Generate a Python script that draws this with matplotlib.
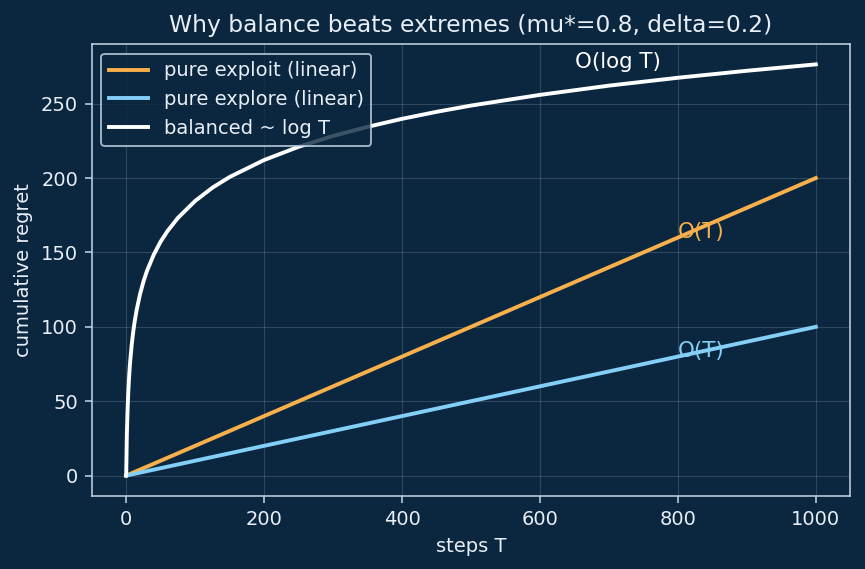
import matplotlib
matplotlib.use("Agg")
import matplotlib.pyplot as plt

# steps and regret values
steps_lin = [0, 1000]
exploit_regret = [0, 200]
explore_regret = [0, 100]

steps_bal = [0, 1, 2, 3, 4, 5, 6, 8, 10, 12, 15, 20, 25, 30, 40, 50, 60, 75,
             100, 125, 150, 200, 250, 300, 350, 400, 450, 500, 600, 700, 800,
             900, 1000]
balanced_regret = [0, 27.7, 43.9, 55.5, 64.4, 71.7, 77.8, 87.9, 95.9, 102.6,
                   110.9, 121.8, 130.3, 137.4, 148.5, 157.3, 164.4, 173.2,
                   184.6, 193.5, 200.7, 212.1, 221.0, 228.3, 234.4, 239.8,
                   244.5, 248.7, 255.9, 262.1, 267.4, 272.1, 276.4]

BG = "#0b2740"
ORANGE = "#f7b04c"
BLUE = "#84cff7"
FG = "#e8eef5"
SPINE = "#c5d5e5"

fig = plt.figure(figsize=(865 / 140, 569 / 140), dpi=140, facecolor=BG)
ax = fig.add_axes([0.106, 0.128, 0.877, 0.795], facecolor=BG)

ax.plot(steps_lin, exploit_regret, color=ORANGE, lw=2, label="pure exploit (linear)")
ax.plot(steps_lin, explore_regret, color=BLUE, lw=2, label="pure explore (linear)")
ax.plot(steps_bal, balanced_regret, color="white", lw=2, label="balanced ~ log T")

# labels next to the curves
ax.text(800, 160, "O(T)", color=ORANGE, fontsize=11)
ax.text(800, 80, "O(T)", color=BLUE, fontsize=11)
ax.text(651, 274, "O(log T)", color="white", fontsize=11)

ax.set_title("Why balance beats extremes (mu*=0.8, delta=0.2)", color=FG, fontsize=12)
ax.set_xlabel("steps T", color=FG, fontsize=10)
ax.set_ylabel("cumulative regret", color=FG, fontsize=10)

ax.grid(True, color="white", alpha=0.15, lw=0.6)
for s in ax.spines.values():
    s.set_color(SPINE)
ax.tick_params(colors=SPINE, labelcolor=FG, labelsize=10)

leg = ax.legend(loc="upper left", fontsize=10, facecolor=BG, edgecolor=SPINE, framealpha=0.8)
for t in leg.get_texts():
    t.set_color(FG)

fig.savefig("out.png", dpi=140, facecolor=BG)
